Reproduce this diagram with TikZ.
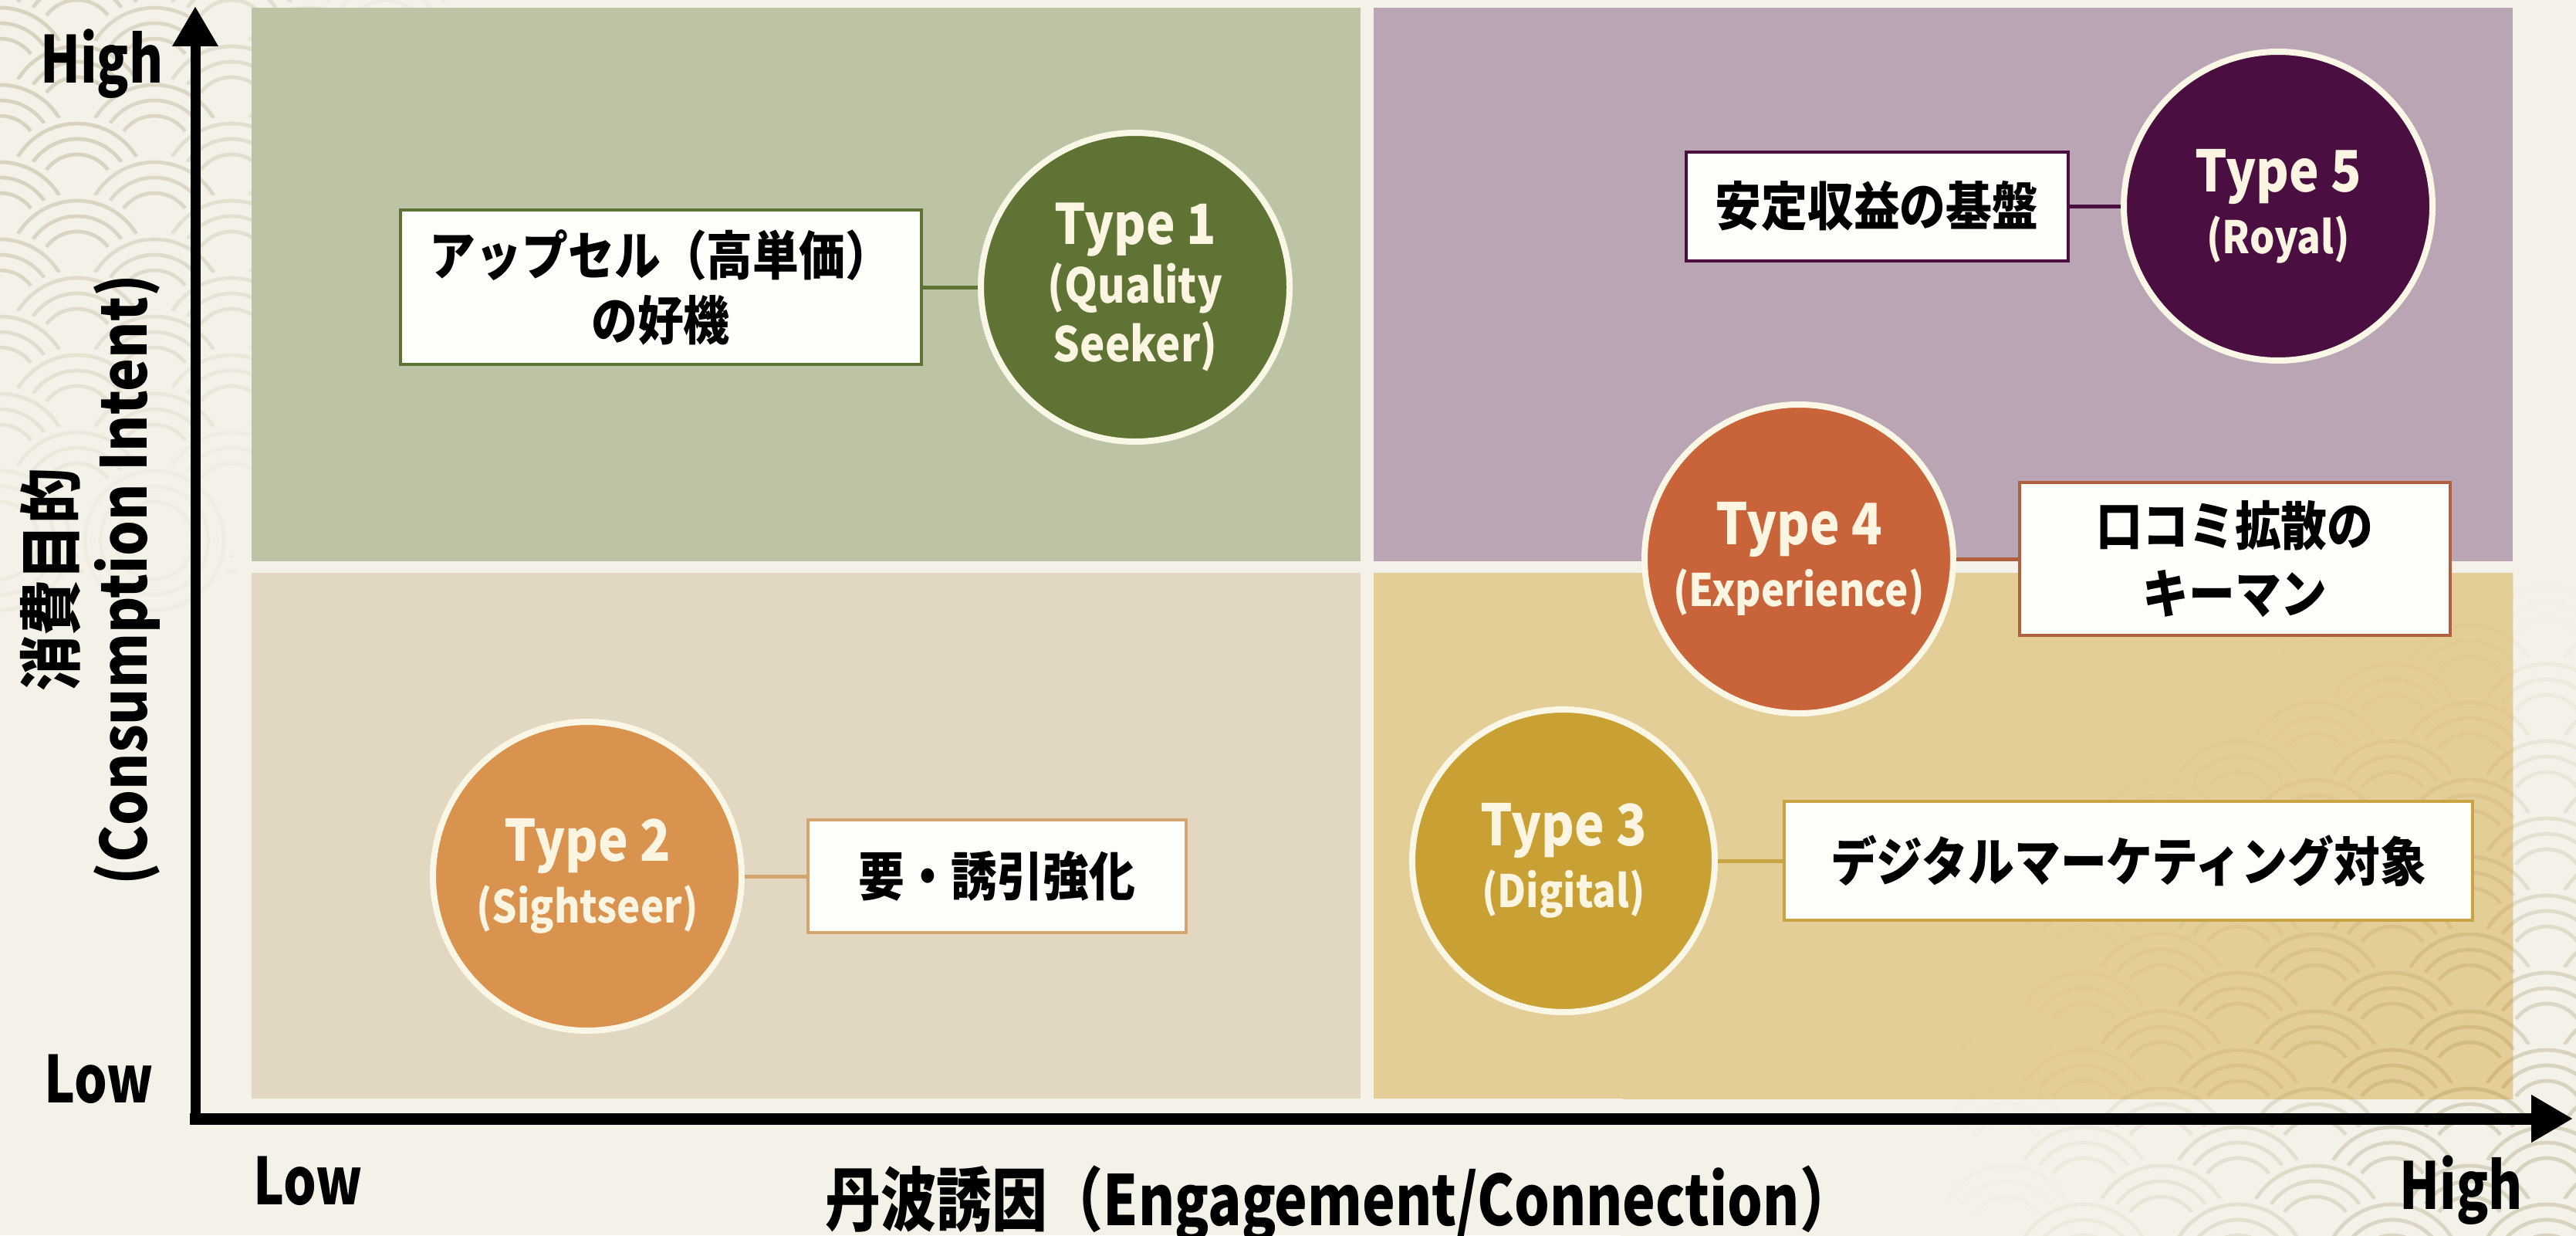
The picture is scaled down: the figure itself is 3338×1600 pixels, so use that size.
\documentclass[tikz,border=0pt]{standalone}
\usepackage{fontspec}
\setmainfont{Noto Sans CJK JP}[FakeStretch=0.88]
\newfontfamily\condfont{Noto Sans CJK JP}[FakeStretch=0.8]
\usetikzlibrary{arrows.meta}
\definecolor{bgc}{HTML}{F4F2E8}
\definecolor{wavec}{HTML}{D8D3BF}
\definecolor{waveq}{HTML}{D2B97F}
\definecolor{qtl}{HTML}{BDC4A5}
\definecolor{qtr}{HTML}{BAA5B4}
\definecolor{qbl}{HTML}{E2D8C2}
\definecolor{qbr}{HTML}{E4CE98}
\definecolor{c1}{HTML}{5F7335}
\definecolor{c5}{HTML}{4B0E41}
\definecolor{c4}{HTML}{C9633A}
\definecolor{c2}{HTML}{D9934F}
\definecolor{c3}{HTML}{C9A034}
\definecolor{c4b}{HTML}{B0603E}
\definecolor{c2b}{HTML}{D4A56E}
\definecolor{c3b}{HTML}{C9A443}
\definecolor{ringw}{HTML}{FBF7E6}
\definecolor{ctext}{HTML}{FBF5E1}
\definecolor{boxw}{HTML}{FEFEFA}
\newcommand{\mywaves}[9]{%
  \foreach \j in {#6,...,#7}{%
    \foreach \i in {#4,...,#5}{%
      \pgfmathsetmacro\wcx{\i*200+mod(\j,2)*100}%
      \pgfmathsetmacro\wcy{\j*50}%
      \pgfmathtruncatemacro\wint{max(0,min(100,130*(1-veclen((\wcx-#1)/100,(\wcy-#2)/100)/(#3/100))))}%
      \colorlet{ringc}{#9!\wint!#8}%
      \fill[#8] (\wcx,\wcy) circle (50pt);
      \draw[ringc, line width=2.4pt] (\wcx,\wcy) circle (45pt) (\wcx,\wcy) circle (35pt) (\wcx,\wcy) circle (25pt);
    }}}
\tikzset{
  tcirc/.style={circle, draw=ringw, line width=4pt, minimum size=200pt, inner sep=0pt, text=ctext, align=center, font=\bfseries\fontsize{37pt}{40pt}\selectfont},
  bx/.style={rectangle, fill=boxw, line width=2pt, inner sep=0pt, align=center, text=black, font=\bfseries\fontsize{34pt}{42pt}\selectfont},
  conn/.style={line width=2.5pt},
  axlab/.style={font=\condfont\bfseries\fontsize{42pt}{46pt}\selectfont, inner sep=0pt},
  xt/.style={font=\condfont\bfseries\fontsize{45pt}{50pt}\selectfont, inner sep=0pt},
  yt/.style={font=\bfseries\fontsize{41pt}{46pt}\selectfont, inner sep=0pt}
}
\begin{document}
\begin{tikzpicture}[x=0.5pt,y=-0.5pt]
\useasboundingbox (0,0) rectangle (3338,1600);
\fill[bgc] (0,0) rectangle (3338,1600);
\begin{scope}
  \clip (0,0) rectangle (3338,1600);
  \mywaves{0}{200}{620}{-1}{4}{-2}{14}{bgc}{wavec}
  \mywaves{3338}{1600}{800}{11}{17}{16}{34}{bgc}{wavec}
\end{scope}
% quadrants
\fill[qtl] (326,10) rectangle (1763,727);
\fill[qtr] (1780,10) rectangle (3256,727);
\fill[qbl] (326,742) rectangle (1763,1423);
\fill[qbr] (1780,742) rectangle (3256,1423);
\begin{scope}
  \clip (1780,742) rectangle (3256,1423);
  \mywaves{3338}{1600}{800}{11}{17}{14}{34}{qbr}{waveq}
\end{scope}
% axes
\coordinate (ybase) at (253,1456.5);
\coordinate (ytip) at (253,8);
\coordinate (xbase) at (246,1449);
\coordinate (xtip) at (3334,1449);
\draw[line width=6.5pt, -{Triangle[length=26pt,width=28pt]}] (ybase) -- (ytip);
\draw[line width=7.5pt, -{Triangle[length=27pt,width=29pt]}] (xbase) -- (xtip);
% axis labels
\node[axlab, anchor=base] (yhigh) at (132,108) {High};
\node[axlab, anchor=base] (ylow) at (128,1428) {Low};
\node[axlab, anchor=base] (xlow) at (399,1560) {Low};
\node[axlab, anchor=base] (xhigh) at (3189,1566) {High};
\node[xt, anchor=base] (xtitle) at (1737,1587) {丹波誘因（Engagement/Connection）};
\node[yt, rotate=90] (yt1) at (65,751) {消費目的};
\node[yt, rotate=90] (yt2) at (165,751) {(Consumption Intent)};
% circles
\node[tcirc, fill=c1, font=\bfseries\fontsize{36pt}{38pt}\selectfont] (t1) at (1471,372) {Type 1\\{\fontsize{31pt}{38pt}\selectfont (Quality}\\{\fontsize{31pt}{38pt}\selectfont Seeker)}};
\node[tcirc, fill=c5] (t5) at (2952,267) {Type 5\\{\fontsize{29pt}{40pt}\selectfont (Royal)}};
\node[tcirc, fill=c4] (t4) at (2331,724) {Type 4\\{\fontsize{29pt}{40pt}\selectfont (Experience)}};
\node[tcirc, fill=c2] (t2) at (761,1135) {Type 2\\{\fontsize{29pt}{40pt}\selectfont (Sightseer)}};
\node[tcirc, fill=c3, minimum size=196pt] (t3) at (2026,1115) {Type 3\\{\fontsize{29pt}{40pt}\selectfont (Digital)}};
% boxes
\node[bx, draw=c1, minimum width=337.5pt, minimum height=100pt] (b1) at (856,372) {アップセル（高単価）\\の好機};
\node[bx, draw=c5, minimum width=247.5pt, minimum height=70.5pt] (b5) at (2432,267) {安定収益の基盤};
\node[bx, draw=c4b, minimum width=279pt, minimum height=99pt, font=\bfseries\fontsize{34pt}{44pt}\selectfont] (b4) at (2896,724) {口コミ拡散の\\キーマン};
\node[bx, draw=c2b, minimum width=245pt, minimum height=73pt] (b2) at (1292,1135) {要・誘引強化};
\node[bx, draw=c3b, minimum width=446pt, minimum height=77pt] (b3) at (2758,1115) {デジタルマーケティング対象};
% connectors
\draw[conn, c1] (b1) -- (t1);
\draw[conn, c5] (b5) -- (t5);
\draw[conn, c4b] (t4) -- (b4);
\draw[conn, c2b] (t2) -- (b2);
\draw[conn, c3b] (t3) -- (b3);
\end{tikzpicture}
\end{document}
